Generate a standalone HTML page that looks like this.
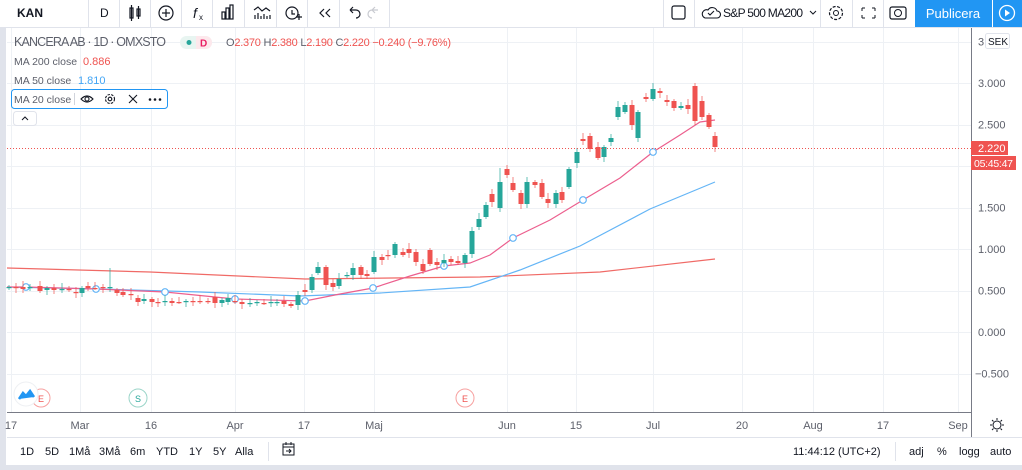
<!DOCTYPE html>
<html><head><meta charset="utf-8"><style>
html,body{margin:0;padding:0;background:#fff;width:1022px;height:470px;overflow:hidden;font-family:"Liberation Sans",sans-serif}
svg{display:block}
text{font-family:"Liberation Sans",sans-serif}
</style></head><body>
<svg id="s" width="1022" height="470" viewBox="0 0 1022 470" xmlns="http://www.w3.org/2000/svg">
<rect width="1022" height="470" fill="#fff"/>
<g id="grid" stroke="#eef1f5" stroke-width="1"></g>
<g id="ma"></g>
<g id="candles"></g>
<line x1="7" y1="148.5" x2="971" y2="148.5" stroke="#ef5350" stroke-width="1" stroke-dasharray="1,2"/>
<rect x="0" y="0" width="1022" height="27" fill="#fff"/>
<line x1="0" y1="27.5" x2="1022" y2="27.5" stroke="#e0e3eb"/>
<rect x="0" y="27" width="6" height="443" fill="#e0e3eb"/>
<g stroke="#e0e3eb">
<line x1="88.5" y1="0" x2="88.5" y2="27"/><line x1="119.5" y1="0" x2="119.5" y2="27"/><line x1="150.5" y1="0" x2="150.5" y2="27"/><line x1="181.5" y1="0" x2="181.5" y2="27"/><line x1="212.5" y1="0" x2="212.5" y2="27"/><line x1="244.5" y1="0" x2="244.5" y2="27"/><line x1="276.5" y1="0" x2="276.5" y2="27"/><line x1="307.5" y1="0" x2="307.5" y2="27"/><line x1="339.5" y1="0" x2="339.5" y2="27"/><line x1="389.5" y1="0" x2="389.5" y2="27"/>
<line x1="663.5" y1="0" x2="663.5" y2="27"/><line x1="694.5" y1="0" x2="694.5" y2="27"/><line x1="820.5" y1="0" x2="820.5" y2="27"/><line x1="852.5" y1="0" x2="852.5" y2="27"/><line x1="883.5" y1="0" x2="883.5" y2="27"/>
</g>
<text x="17" y="17" font-size="12" font-weight="bold" fill="#131722">KAN</text>
<text x="100" y="17" font-size="12" fill="#131722">D</text>
<g stroke="#131722" fill="none" stroke-width="1.2">
<rect x="130" y="8" width="3" height="10"/><line x1="131.5" y1="5" x2="131.5" y2="21"/><rect x="137" y="9" width="3" height="7"/><line x1="138.5" y1="6" x2="138.5" y2="19"/>
<circle cx="166" cy="13" r="7"/><line x1="162" y1="13" x2="170" y2="13"/><line x1="166" y1="9" x2="166" y2="17"/>
<rect x="222" y="12" width="3" height="7"/><rect x="226" y="8" width="3" height="11"/><rect x="230" y="5" width="3" height="14"/>
<path d="M254 10 l4 -3 l4 4 l4 -3 l4 3"/><path d="M255 19v-4M258 19v-6M261 19v-3M264 19v-5M267 19v-3M270 19v-4"/>
<circle cx="292" cy="13" r="6"/><path d="M292 10v4h3M296 17h6M299 14v6"/>
<path d="M324 9l-4 4 4 4M330 9l-4 4 4 4"/>
<path d="M350 10h6a4 4 0 0 1 0 8M350 10l3 -3M350 10l3 3"/>
</g>
<path d="M372 10h6a4 4 0 0 1 0 8M378 10l-3 -3M378 10l-3 3" stroke="#c8cad0" fill="none" stroke-width="1.2" transform="translate(750 0) scale(-1 1)"/>
<text x="193" y="18" font-size="14" font-style="italic" fill="#131722">f</text><text x="199" y="20" font-size="8" fill="#131722">x</text>
<rect x="672" y="6" width="13" height="13" rx="2" fill="none" stroke="#131722" stroke-width="1.2"/>
<path d="M705 18h12a3.5 3.5 0 0 0 0-7a5 5 0 0 0-9-1a4 4 0 0 0-3 8z M708 13l2 2 4-4" fill="none" stroke="#131722" stroke-width="1.1"/>
<text x="723" y="17" font-size="12" fill="#131722" textLength="80">S&amp;P 500 MA200</text>
<path d="M810 11l3 3 3-3" fill="none" stroke="#131722"/>
<circle cx="836" cy="13" r="6.5" fill="none" stroke="#131722" stroke-width="1.2" stroke-dasharray="3,1.5"/><circle cx="836" cy="13" r="2.5" fill="none" stroke="#131722"/>
<path d="M862 8h3M862 8v3M875 8h-3M875 8v3M862 18h3M862 18v-3M875 18h-3M875 18v-3" stroke="#131722" fill="none"/>
<rect x="890" y="7" width="16" height="12" rx="2" fill="none" stroke="#131722" stroke-width="1.2"/><circle cx="898" cy="13" r="3.5" fill="none" stroke="#131722"/>
<rect x="915" y="0" width="77" height="27" fill="#2196f3"/>
<text x="953" y="18" font-size="13" fill="#fff" text-anchor="middle">Publicera</text>
<rect x="993" y="0" width="29" height="27" fill="#2196f3"/>
<circle cx="1007" cy="13" r="7.5" fill="none" stroke="#fff" stroke-width="1.3"/><path d="M1005 9.5v7l5-3.5z" fill="#fff"/>
<text x="14" y="46" font-size="12.5" fill="#5d606b" textLength="152">KANCERA AB · 1D · OMXSTO</text>
<rect x="180" y="36" width="32" height="13" rx="6.5" fill="#e8f5f1"/><rect x="196" y="36" width="16" height="13" rx="6.5" fill="#fde8ec"/><rect x="196" y="36" width="6" height="13" fill="#fde8ec"/>
<circle cx="189" cy="42.5" r="2.5" fill="#26a69a"/><text x="200" y="46.5" font-size="10" font-weight="bold" fill="#e91e63">D</text>
<text x="226" y="46" font-size="11" fill="#5d606b" textLength="225">O<tspan fill="#ef5350">2.370</tspan>  H<tspan fill="#ef5350">2.380</tspan>  L<tspan fill="#ef5350">2.190</tspan>  C<tspan fill="#ef5350">2.220</tspan>  <tspan fill="#ef5350">−0.240 (−9.76%)</tspan></text>
<text x="14" y="65" font-size="10.5" fill="#5d606b">MA 200 close</text><text x="83" y="65" font-size="11" fill="#ef5350">0.886</text>
<text x="14" y="84" font-size="10.5" fill="#5d606b">MA 50 close</text><text x="78" y="84" font-size="11" fill="#42a5f5">1.810</text>
<rect x="11.5" y="89.5" width="156" height="19" rx="3" fill="#fff" stroke="#2196f3"/>
<text x="14" y="103" font-size="10.5" fill="#5d606b">MA 20 close</text>
<line x1="74.5" y1="93" x2="74.5" y2="105" stroke="#d1d4dc"/>
<g stroke="#131722" fill="none" stroke-width="1.1">
<path d="M81 99q6-6 12 0q-6 6-12 0z"/><circle cx="87" cy="99" r="2"/>
<circle cx="110" cy="99" r="4.5" stroke-dasharray="2.5,1.2"/><circle cx="110" cy="99" r="1.8"/>
<path d="M129 95l8 8M137 95l-8 8"/>
</g>
<circle cx="150" cy="99.5" r="1.3" fill="#131722"/><circle cx="155" cy="99.5" r="1.3" fill="#131722"/><circle cx="160" cy="99.5" r="1.3" fill="#131722"/>
<rect x="13.5" y="111.5" width="23" height="14" rx="3" fill="#fff" stroke="#e0e3eb"/><path d="M22 120l3-3 3 3" fill="none" stroke="#131722"/>
<rect x="971" y="28" width="51" height="409" fill="#fff"/>
<line x1="971.5" y1="28" x2="971.5" y2="437" stroke="#787b86"/>
<g id="plabels" font-size="11" fill="#5d606b"></g>
<rect x="985.5" y="33.5" width="24" height="15" rx="2" fill="#fff" stroke="#e0e3eb"/><text x="988" y="45" font-size="10" fill="#131722">SEK</text>
<rect x="971" y="141" width="37" height="14" fill="#ef5350"/><text x="978" y="152" font-size="11" fill="#fff">2.220</text>
<rect x="971" y="156" width="45" height="14" fill="#ef5350"/><text x="974" y="167" font-size="10.5" fill="#fff" textLength="39">05:45:47</text>
<circle cx="41" cy="398" r="9" fill="#fff" stroke="#f7a1a0"/><text x="41" y="402" font-size="9" fill="#ef5350" text-anchor="middle">E</text>
<circle cx="26" cy="394" r="12" fill="#fff" stroke="#eef0f3"/><path d="M19 399l4-6 3 3 4-5 4 6" fill="#2196f3" stroke="#2196f3" stroke-width="2.5"/>
<circle cx="138" cy="398" r="9" fill="#fff" stroke="#9bd5c9"/><text x="138" y="402" font-size="9" fill="#26a69a" text-anchor="middle">S</text>
<circle cx="465" cy="398" r="9" fill="#fff" stroke="#f7a1a0"/><text x="465" y="402" font-size="9" fill="#ef5350" text-anchor="middle">E</text>
<line x1="7" y1="412.5" x2="971" y2="412.5" stroke="#787b86"/>
<g id="tlabels" font-size="11" fill="#5d606b" text-anchor="middle"></g>
<circle cx="997" cy="425" r="4" fill="none" stroke="#131722"/><path d="M997 418v2M997 430v2M990 425h2M1002 425h2M992 420l1.5 1.5M1002 420l-1.5 1.5M992 430l1.5-1.5M1002 430l-1.5-1.5" stroke="#131722"/>
<line x1="7" y1="437.5" x2="1022" y2="437.5" stroke="#e0e3eb"/>
<rect x="0" y="465" width="1022" height="5" fill="#e0e3eb"/>
<g font-size="11" fill="#131722">
<text x="20" y="455">1D</text><text x="45" y="455">5D</text><text x="69" y="455">1Må</text><text x="99" y="455">3Må</text><text x="130" y="455">6m</text><text x="156" y="455">YTD</text><text x="189" y="455">1Y</text><text x="213" y="455">5Y</text><text x="235" y="455">Alla</text>
<text x="793" y="455">11:44:12 (UTC+2)</text><text x="909" y="455">adj</text><text x="937" y="455">%</text><text x="959" y="455">logg</text><text x="990" y="455">auto</text>
</g>
<line x1="268.5" y1="442" x2="268.5" y2="461" stroke="#e0e3eb"/><line x1="895.5" y1="442" x2="895.5" y2="461" stroke="#e0e3eb"/>
<rect x="283" y="444" width="11" height="11" fill="none" stroke="#131722"/><path d="M283 447h11M286 442v3M291 442v3M286 451h5M289 449l2 2-2 2" fill="none" stroke="#131722"/>
</svg>
<script>
var NS="http://www.w3.org/2000/svg";
function el(p,t,a){var e=document.createElementNS(NS,t);for(var k in a)e.setAttribute(k,a[k]);p.appendChild(e);return e;}
var g=document.getElementById('grid');
[41.5,83,124.5,166,207.5,249,290.5,332,373.5].forEach(function(y){el(g,'line',{x1:7,x2:971,y1:Math.round(y)+.5,y2:Math.round(y)+.5});});
var tx=[[11,'17'],[80,'Mar'],[151,'16'],[235,'Apr'],[304,'17'],[374,'Maj'],[507,'Jun'],[576,'15'],[653,'Jul'],[742,'20'],[813,'Aug'],[883,'17'],[958,'Sep']];
var tl=document.getElementById('tlabels');
tx.forEach(function(t){el(g,'line',{x1:t[0]+.5,x2:t[0]+.5,y1:28,y2:412});var e=el(tl,'text',{x:t[0],y:429});e.textContent=t[1];});
var pl=document.getElementById('plabels');
[[41.5,'3'],[83,'3.000'],[124.5,'2.500'],[207.5,'1.500'],[249,'1.000'],[290.5,'0.500'],[332,'0.000'],[373.5,'−0.500']].forEach(function(p){var e=el(pl,'text',{x:p[1]=='−0.500'?975:978,y:p[0]+4});e.textContent=p[1];});
var m=document.getElementById('ma');
function line(pts,c,w){el(m,'polyline',{points:pts,fill:'none',stroke:c,'stroke-width':w||1.2});}
line("7,268 150,272 305,279 480,277 600,272 715,259","#f06a66");
line("7,287 100,289 200,292 300,296 380,293 470,287 520,270 580,246 650,209 715,182","#64b5f6");
var ma20=[[7,287],[26,287],[96,289],[165,292],[235,299],[305,301],[340,294],[373,288],[410,276],[444,266],[470,263],[490,255],[513,238],[550,220],[583,200],[620,178],[653,152],[680,135],[700,122],[715,120]];
line(ma20.map(function(p){return p.join(',')}).join(' '),"#ec5f8e");
[26,96,165,235,305,373,444,513,583,653].forEach(function(x){var y;for(var i=0;i<ma20.length-1;i++){if(x>=ma20[i][0]&&x<=ma20[i+1][0]){var a=ma20[i],b=ma20[i+1];y=a[1]+(b[1]-a[1])*(x-a[0])/(b[0]-a[0]);}}el(m,'circle',{cx:x,cy:y,r:3.3,fill:'#fff',stroke:'#64b5f6','stroke-width':1.2});});
var early=[[9,288,287],[16,287,288],[23,287,289],[30,288,287],[40,286,291],[47,290,288],[54,288,290],[62,290,289],[69,289,290],[76,292,293],[82,293,288],[88,286,288],[95,288,288],[103,287,288],[110,288,287],[117,290,293],[123,292,295],[131,294,295],[138,298,302],[144,301,299],[152,299,302],[158,302,302],[165,302,301],[172,301,303],[179,302,302],[186,302,301],[193,301,302],[200,301,301],[208,301,302],[215,297,303],[222,303,300],[228,302,298],[235,301,302],[242,302,304],[250,303,303],[257,303,302],[264,303,303],[271,302,302],[277,302,302],[284,301,304],[291,304,306],[298,305,295],[305,290,292]];
var late=[[312,290,277],[318,273,267],[326,267,285],[333,283,287],[339,286,279],[347,276,275],[353,275,268],[361,267,275],[367,274,276],[374,272,257],[382,257,260],[388,255,256],[395,255,244],[403,252,255],[409,249,253],[416,252,262],[423,264,271],[430,250,264],[437,262,265],[444,263,260],[451,259,262],[458,261,263],[465,263,255],[472,254,231],[479,227,219],[486,217,205],[492,194,202],[500,208,182],[507,169,175],[513,183,190],[521,193,204],[527,204,182],[535,182,185],[542,183,197],[548,199,203],[556,204,193],[562,192,200],[569,187,169],[577,163,152],[583,139,141],[590,136,149],[598,147,158],[604,157,147],[611,142,138],[618,117,107],[625,112,105],[632,105,125],[638,138,112],[646,97,99],[653,99,89],[660,91,93],[667,100,102],[674,101,108],[681,108,106],[688,105,109],[695,86,121],[702,101,117],[709,115,127],[715,136,147]];
var cg=document.getElementById('candles');
early.concat(late).forEach(function(c,i){var x=c[0],o=c[1],cl=c[2];var up=cl<=o&&!(o==cl&&i%3==0);var col=up?'#26a69a':'#ef5350';
var t=Math.min(o,cl),b=Math.max(o,cl);var wk=2+((i*7)%5);
var hi=t-wk,lo=b+2+((i*3)%4);if(x==110)hi=268;if(x==500)hi=168;if(x==152)lo=307;
el(cg,'line',{x1:x,x2:x,y1:hi,y2:lo,stroke:col,'stroke-width':1,opacity:.7});
el(cg,'rect',{x:x-2.5,y:t,width:5,height:Math.max(1.2,b-t),fill:col});});
</script>
</body></html>
